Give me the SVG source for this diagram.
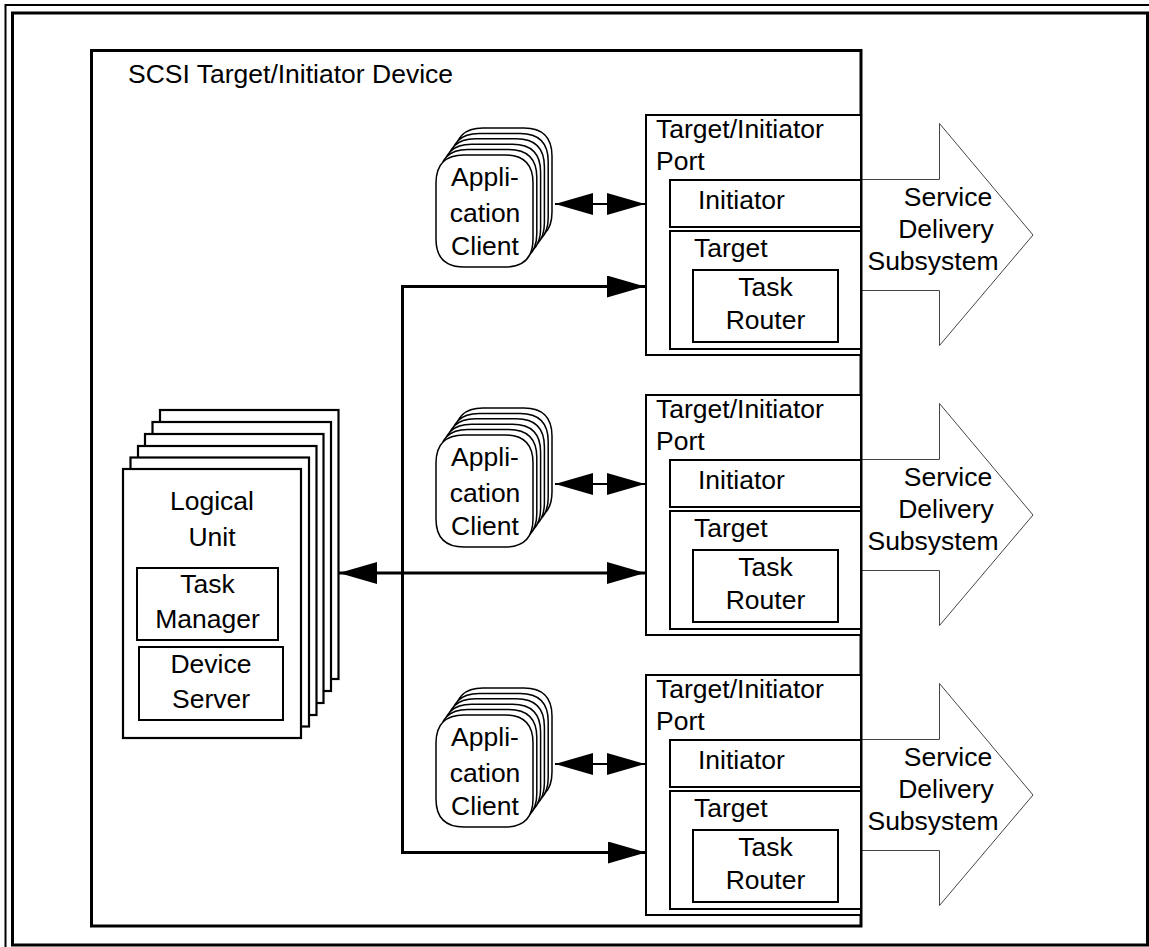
<svg xmlns="http://www.w3.org/2000/svg" width="1149" height="947" viewBox="0 0 1149 947">
<style>
text{font-family:"Liberation Sans",Arial,Helvetica,sans-serif;font-size:26.5px;fill:#000}
.m{text-anchor:middle}
.box{fill:#fff;stroke:#000;stroke-width:2}
.lu{fill:#fff;stroke:#000;stroke-width:2.2}
.ac{fill:#fff;stroke:#000;stroke-width:1.5}
.sds{fill:#fff;stroke:#444;stroke-width:1}
.conn{fill:none;stroke:#000;stroke-width:3}
.thin{fill:none;stroke:#000;stroke-width:2}
</style>
<defs>
<marker id="ah" markerUnits="userSpaceOnUse" markerWidth="40" markerHeight="24" refX="38" refY="11" orient="auto-start-reverse" viewBox="0 0 40 24">
<path d="M0,0 L38,11 L0,22 z" fill="#000"/>
</marker>
<path id="acShape" d="M28,0 H69 Q97,0 97,28 V84 Q97,112 69,112 H28 Q0,112 0,84 V28 Q0,0 28,0 Z"/>
<g id="acStack">
<use href="#acShape" class="ac" x="19" y="-27"/>
<use href="#acShape" class="ac" x="15.2" y="-21.6"/>
<use href="#acShape" class="ac" x="11.4" y="-16.2"/>
<use href="#acShape" class="ac" x="7.6" y="-10.8"/>
<use href="#acShape" class="ac" x="3.8" y="-5.4"/>
<use href="#acShape" class="ac" x="0" y="0"/>
</g>
</defs>
<rect width="1149" height="947" fill="#fff"/>
<g id="frame">
<path d="M5.5,947 V5 H1149" fill="none" stroke="#000" stroke-width="2"/>
<rect x="12.5" y="13" width="1135" height="932" fill="none" stroke="#000" stroke-width="3"/>
</g>
<g id="sds1"><path class="sds" d="M861,179.5 H939.5 V123.5 L1033,235 L939.5,345.5 V290.5 H861"/><text class="m" x="948" y="206">Service</text><text class="m" x="946" y="238">Delivery</text><text class="m" x="933" y="270">Subsystem</text></g>
<g id="sds2"><path class="sds" d="M861,459.5 H939.5 V403.5 L1033,515 L939.5,625.5 V570.5 H861"/><text class="m" x="948" y="486">Service</text><text class="m" x="946" y="518">Delivery</text><text class="m" x="933" y="550">Subsystem</text></g>
<g id="sds3"><path class="sds" d="M861,739.5 H939.5 V683.5 L1033,795 L939.5,905.5 V850.5 H861"/><text class="m" x="948" y="766">Service</text><text class="m" x="946" y="798">Delivery</text><text class="m" x="933" y="830">Subsystem</text></g>
<g id="device">
<rect x="91.5" y="50.5" width="769.5" height="875.5" fill="#fff" stroke="#000" stroke-width="3"/>
<text x="128" y="83">SCSI Target/Initiator Device</text>
</g>
<g id="port1">
<rect class="box" x="646" y="115" width="215" height="240"/>
<text x="656" y="138">Target/Initiator</text><text x="656" y="170">Port</text>
<rect class="box" x="670" y="180" width="191" height="47"/><text x="698" y="209">Initiator</text>
<rect class="box" x="670" y="231" width="191" height="118"/><text x="694" y="257">Target</text>
<rect class="box" x="693" y="270" width="145" height="72"/><text class="m" x="765.5" y="296">Task</text><text class="m" x="765.5" y="329">Router</text>
</g>
<g id="port2">
<rect class="box" x="646" y="395" width="215" height="240"/>
<text x="656" y="418">Target/Initiator</text><text x="656" y="450">Port</text>
<rect class="box" x="670" y="460" width="191" height="47"/><text x="698" y="489">Initiator</text>
<rect class="box" x="670" y="511" width="191" height="118"/><text x="694" y="537">Target</text>
<rect class="box" x="693" y="550" width="145" height="72"/><text class="m" x="765.5" y="576">Task</text><text class="m" x="765.5" y="609">Router</text>
</g>
<g id="port3">
<rect class="box" x="646" y="675" width="215" height="240"/>
<text x="656" y="698">Target/Initiator</text><text x="656" y="730">Port</text>
<rect class="box" x="670" y="740" width="191" height="47"/><text x="698" y="769">Initiator</text>
<rect class="box" x="670" y="791" width="191" height="118"/><text x="694" y="817">Target</text>
<rect class="box" x="693" y="830" width="145" height="72"/><text class="m" x="765.5" y="856">Task</text><text class="m" x="765.5" y="889">Router</text>
</g>
<g id="client1"><use href="#acStack" x="436" y="155"/><text class="m" x="485" y="186">Appli-</text><text class="m" x="485" y="222">cation</text><text class="m" x="485" y="255">Client</text></g>
<g id="client2"><use href="#acStack" x="436" y="435"/><text class="m" x="485" y="466">Appli-</text><text class="m" x="485" y="502">cation</text><text class="m" x="485" y="535">Client</text></g>
<g id="client3"><use href="#acStack" x="436" y="715"/><text class="m" x="485" y="746">Appli-</text><text class="m" x="485" y="782">cation</text><text class="m" x="485" y="815">Client</text></g>
<g id="logicalUnit">
<rect class="lu" x="160" y="410" width="178.5" height="269"/>
<rect class="lu" x="152.5" y="422" width="178.5" height="269"/>
<rect class="lu" x="145" y="434" width="178.5" height="269"/>
<rect class="lu" x="138" y="446" width="178.5" height="269"/>
<rect class="lu" x="130.5" y="457.5" width="178.5" height="269"/>
<rect class="lu" x="123" y="469" width="178" height="269"/>
<text class="m" x="212" y="510">Logical</text><text class="m" x="212" y="546">Unit</text>
<rect class="box" x="137" y="568" width="141" height="72"/><text class="m" x="207.5" y="593">Task</text><text class="m" x="207.5" y="628">Manager</text>
<rect class="box" x="139" y="647" width="144" height="73"/><text class="m" x="211" y="673">Device</text><text class="m" x="211" y="708">Server</text>
</g>
<g id="connectors">
<path class="conn" d="M402.5,286.5 V852.5"/>
<path class="conn" d="M401,286.5 H645" marker-end="url(#ah)"/>
<path class="conn" d="M339,573 H645" marker-start="url(#ah)" marker-end="url(#ah)"/>
<path class="conn" d="M401,852.5 H646" marker-end="url(#ah)"/>
<path class="thin" d="M555,204 H645" marker-start="url(#ah)" marker-end="url(#ah)"/>
<path class="thin" d="M555,484 H645" marker-start="url(#ah)" marker-end="url(#ah)"/>
<path class="thin" d="M555,764 H645" marker-start="url(#ah)" marker-end="url(#ah)"/>
</g>
</svg>
